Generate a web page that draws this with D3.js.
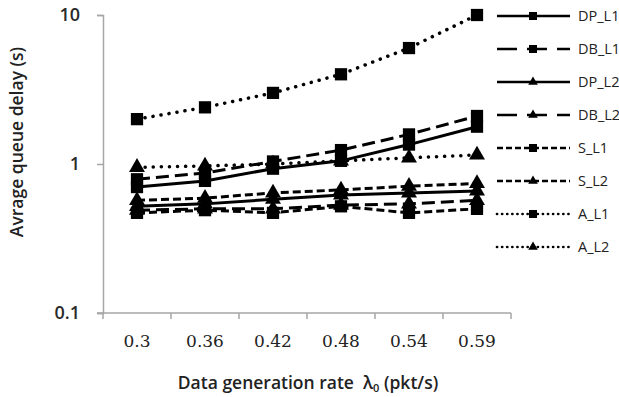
<!DOCTYPE html>
<html><head><meta charset="utf-8">
<script src="https://cdn.jsdelivr.net/npm/d3@7"></script>
<style>body{margin:0;background:#fff}svg{display:block}</style>
</head><body>
<script>
const categories = ["0.3","0.36","0.42","0.48","0.54","0.59"];
const seriesNames = ["DP_L1","DB_L1","DP_L2","DB_L2","S_L1","S_L2","A_L1","A_L2"];
const DP_L1 = [0.70,0.77,0.93,1.05,1.35,1.78];
const DB_L1 = [0.79,0.87,1.04,1.24,1.58,2.10];
const DP_L2 = [0.52,0.54,0.58,0.62,0.64,0.66];
const DB_L2 = [0.49,0.50,0.50,0.53,0.54,0.57];
const S_L1  = [0.47,0.49,0.47,0.52,0.47,0.50];
const S_L2  = [0.57,0.59,0.64,0.67,0.71,0.74];
const A_L1  = [2.0,2.4,3.0,4.0,6.0,10];
const A_L2  = [0.95,0.97,1.0,1.05,1.1,1.15];
const yTicks = [0.1,1,10];
const yTickLabels = ["0.1","1","10"];

const W=619,H=397;
const svg=d3.select("body").append("svg").attr("width",W).attr("height",H);
const x=d3.scaleBand().domain(categories).range([103,511]).padding(0);
const y=d3.scaleLog().domain([0.1,10]).range([313,15]);

const styles={
  DP_L1:{dash:null,mk:"square"},
  DB_L1:{dash:"13,6",mk:"square"},
  DP_L2:{dash:null,mk:"triangle"},
  DB_L2:{dash:"13,6",mk:"triangle"},
  S_L1:{dash:"8,4",mk:"square"},
  S_L2:{dash:"8,4",mk:"triangle"},
  A_L1:{dash:"0.1,8",mk:"square",round:true},
  A_L2:{dash:"0.1,8",mk:"triangle",round:true}
};
const data={DP_L1,DB_L1,DP_L2,DB_L2,S_L1,S_L2,A_L1,A_L2};

// axes
const axisColor="#a6a6a6";
const gy=svg.append("g").attr("transform","translate(103,0)")
  .call(d3.axisLeft(y).tickValues(yTicks).tickFormat((d,i)=>yTickLabels[i]).tickSizeOuter(0).tickSize(6).tickPadding(17));
gy.select(".domain").attr("stroke",axisColor).attr("stroke-width",1.5);
gy.selectAll(".tick line").attr("stroke",axisColor).attr("stroke-width",1.5);
gy.selectAll(".tick text").attr("font-family","'Open Sans',sans-serif").attr("font-size",18).attr("font-weight","600").attr("fill","#2a2a2a");

const gx=svg.append("g").attr("transform","translate(0,313)")
  .call(d3.axisBottom(x).tickSize(0).tickPadding(22));
gx.select(".domain").attr("d","M97,0H511").attr("stroke",axisColor).attr("stroke-width",1.5);
gx.selectAll(".tick text").attr("font-family","'DejaVu Serif',serif").attr("font-size",17).attr("fill","#222");
const bounds=categories.map(c=>x(c)).concat([x.range()[1]]);
gx.selectAll("line.bt").data(bounds).enter().append("line").attr("class","bt")
  .attr("x1",d=>d).attr("x2",d=>d).attr("y1",0).attr("y2",6)
  .attr("stroke",axisColor).attr("stroke-width",1.5);

// series
const line=d3.line().x((d,i)=>x(categories[i])+x.bandwidth()/2).y(d=>y(d));
const sq=d3.symbol().type(d3.symbolSquare);
const tri=d3.symbol().type(d3.symbolTriangle);
const order=["A_L1","A_L2","S_L1","S_L2","DB_L2","DP_L2","DB_L1","DP_L1"];
order.forEach(name=>{
  const st=styles[name];
  svg.append("path").datum(data[name]).attr("d",line).attr("fill","none")
    .attr("stroke","#000").attr("stroke-width",st.round?3.5:3)
    .attr("stroke-linecap",st.round?"round":"butt")
    .attr("stroke-dasharray",st.dash);
  svg.selectAll(null).data(data[name]).enter().append("path")
    .attr("transform",(d,i)=>`translate(${x(categories[i])+x.bandwidth()/2},${y(d)})`)
    .attr("d",st.mk==="square"?sq.size(150)():tri.size(110)())
    .attr("fill","#000");
});

// legend
const lg=svg.append("g");
seriesNames.forEach((name,i)=>{
  const st=styles[name];
  const ly=16+i*33;
  lg.append("line").attr("x1",497).attr("x2",570).attr("y1",ly).attr("y2",ly)
    .attr("stroke","#000").attr("stroke-width",2.7)
    .attr("stroke-linecap",st.round?"round":"butt")
    .attr("stroke-dasharray",st.dash===null?null:(st.round?"0.1,5":(st.dash==="13,6"?"20,10":"6,3")));
  lg.append("path").attr("transform",`translate(533,${ly})`)
    .attr("d",st.mk==="square"?sq.size(64)():tri.size(40)()).attr("fill","#000");
  lg.append("text").attr("x",578).attr("y",ly).attr("dy","0.35em")
    .attr("font-family","'Open Sans',sans-serif").attr("font-size",14.5).attr("fill","#222").text(name);
});

// titles
svg.append("text").attr("transform","translate(23,142) rotate(-90)").attr("text-anchor","middle")
  .attr("font-family","'Open Sans',sans-serif").attr("font-size",17.5).attr("font-weight","600").attr("fill","#222")
  .text("Avrage queue delay (s)");
const xt=svg.append("text").attr("x",308).attr("y",389).attr("text-anchor","middle")
  .style("white-space","pre")
  .attr("font-family","'Open Sans',sans-serif").attr("font-size",17.5).attr("font-weight","600").attr("fill","#222");
xt.append("tspan").text("Data generation rate  λ");
xt.append("tspan").attr("font-size",11).attr("dy",3).text("0");
xt.append("tspan").attr("dy",-3).text(" (pkt/s)");
</script>
</body></html>
